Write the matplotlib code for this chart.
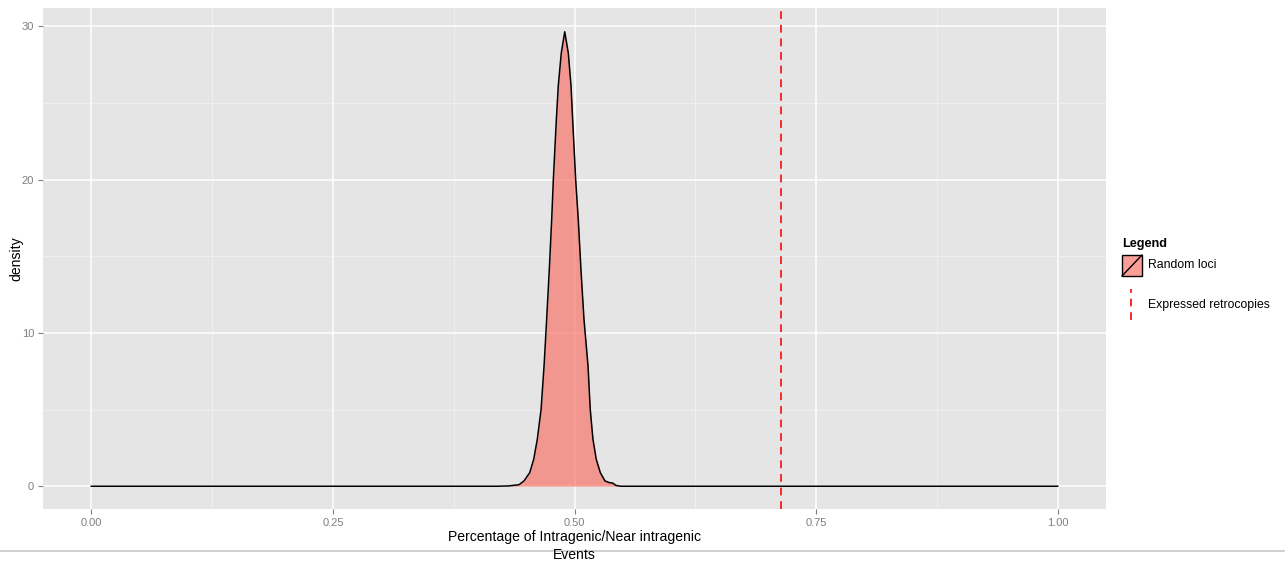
import numpy as np
import matplotlib.pyplot as plt
from matplotlib.lines import Line2D
from matplotlib.patches import Rectangle

plt.rcParams['font.family'] = ['Liberation Sans', 'DejaVu Sans']

# density of random loci
dens_x = [0.000, 0.420, 0.432, 0.4426, 0.4478, 0.4537, 0.4578, 0.4615,
          0.4654, 0.4685, 0.4712, 0.4739, 0.4764, 0.4781, 0.4812, 0.4832,
          0.4863, 0.4899, 0.4936, 0.4964, 0.4981, 0.5012, 0.5039, 0.5067,
          0.5098, 0.5140, 0.5163, 0.5191, 0.5225, 0.5267, 0.5315, 0.5357,
          0.5398, 0.5429, 0.548, 1.000]
dens_y = [0.0, 0.0, 0.02, 0.10, 0.35, 0.89, 1.76, 3.06,
          5.0, 7.84, 10.9, 14.1, 17.4, 20.0, 23.9, 26.1,
          28.25, 29.64, 28.25, 26.1, 23.9, 20.0, 17.4, 14.1,
          10.9, 7.84, 5.0, 3.06, 1.76, 0.89, 0.35, 0.24,
          0.20, 0.05, 0.0, 0.0]
expressed = 0.714

x_ticks = [0.0, 0.25, 0.5, 0.75, 1.0]
x_labels = ['0.00', '0.25', '0.50', '0.75', '1.00']
y_ticks = [0, 10, 20, 30]

W, H = 1286, 565
fig = plt.figure(figsize=(W / 100, H / 100), dpi=100)
ax = fig.add_axes([43 / W, 1 - 509 / H, (1106 - 43) / W, (509 - 8) / H])
ax.set_facecolor('#E5E5E5')
for s in ax.spines.values():
    s.set_visible(False)

ax.fill_between(dens_x, dens_y, 0, color='#F8766D', alpha=0.7, lw=0, zorder=3)
ax.plot(dens_x, dens_y, color='black', lw=1.1, zorder=4)
ax.axvline(expressed, color='#F52A2A', lw=1.4, dashes=(4, 3), zorder=5)

ax.set_xlim(-0.05, 1.05)
ax.set_ylim(-1.485, 31.19)
ax.set_xticks(x_ticks)
ax.set_xticklabels(x_labels)
ax.set_yticks(y_ticks)
ax.set_xticks([0.125, 0.375, 0.625, 0.875], minor=True)
ax.set_yticks([5, 15, 25], minor=True)
ax.grid(which='major', color='white', lw=1.1, zorder=1)
ax.grid(which='minor', color='#F2F2F2', lw=0.6, zorder=1)
ax.set_axisbelow(True)
ax.tick_params(which='major', length=3.5, width=0.8, color='#7F7F7F',
               labelcolor='#7F7F7F', labelsize=8, pad=3)
ax.tick_params(which='minor', length=0)


def fx(px):
    return px / W


def fy(py):
    return 1 - py / H


# axis titles
fig.text(fx(574.5), fy(546), 'Percentage of Intragenic/Near intragenic\nEvents',
         fontsize=10.1, ha='center', va='center', multialignment='center', linespacing=1.3)
fig.text(fx(16), fy(258.5), 'density', fontsize=10.1, rotation=90, ha='center', va='center')

# separator line across the bottom
fig.add_artist(Line2D([0, 1284 / W], [fy(551)] * 2, color='#C8C8C8', lw=1.2,
                      transform=fig.transFigure, zorder=0))

# legend
fig.text(fx(1122), fy(244), 'Legend', fontsize=9.1, fontweight='bold', va='center')
fig.add_artist(Rectangle((fx(1122), fy(276)), 20 / W, 21 / H, transform=fig.transFigure,
                         facecolor='#F8766D', alpha=0.7, edgecolor='none'))
fig.add_artist(Rectangle((fx(1122), fy(276)), 20 / W, 21 / H, transform=fig.transFigure,
                         facecolor='none', edgecolor='black', lw=1.0))
fig.add_artist(Line2D([fx(1122), fx(1142)], [fy(276), fy(255)], color='black', lw=1.0,
                      transform=fig.transFigure))
fig.text(fx(1148), fy(265.5), 'Random loci', fontsize=8.8, va='center')
fig.add_artist(Line2D([fx(1131), fx(1131)], [fy(320), fy(289)], color='#F52A2A', lw=1.4,
                      dashes=(4, 3), transform=fig.transFigure))
fig.text(fx(1148), fy(305), 'Expressed retrocopies', fontsize=8.8, va='center')

fig.savefig('out.png', dpi=100)
